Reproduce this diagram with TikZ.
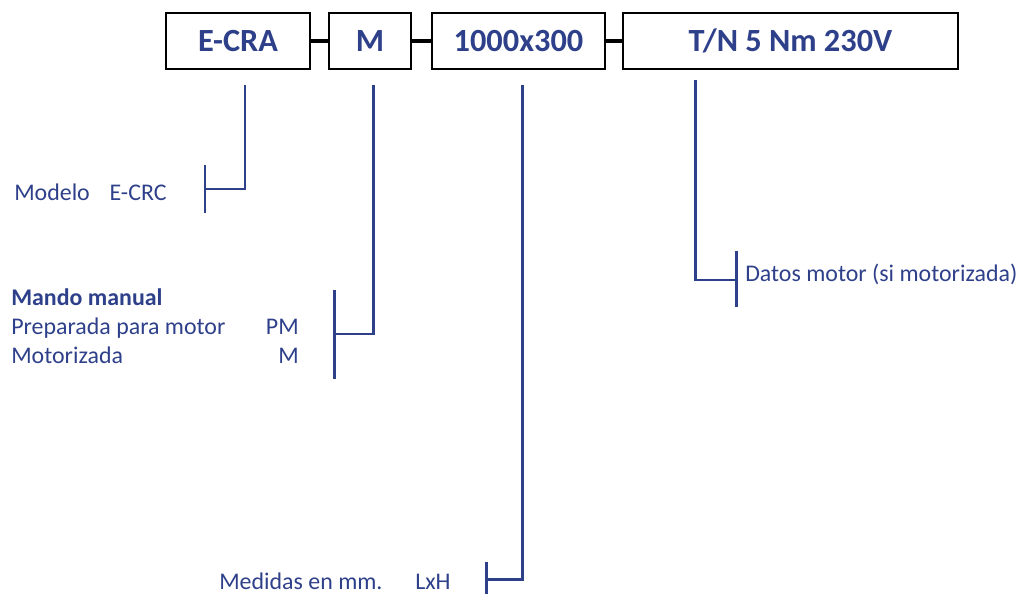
\documentclass[tikz,border=0pt]{standalone}
\usepackage{fontspec}
\setmainfont{Carlito}
\usepackage{xcolor}
\usetikzlibrary{positioning, calc}
\definecolor{codeblue}{RGB}{46,64,138}

\begin{document}
\begin{tikzpicture}[x=0.025cm, y=-0.025cm,
    every node/.style={inner sep=0pt, text=codeblue},
    codebox/.style={draw=black, line width=1.4pt, minimum height=1.4cm, font=\bfseries\fontsize{23}{27}\selectfont},
    joint/.style={draw=black, line width=2.8pt},
    leg/.style={draw=codeblue, line width=1.8pt},
    note/.style={anchor=base west, font=\fontsize{17}{20}\selectfont}]
    \useasboundingbox (0,0) rectangle (1021,594);
    % Code boxes
    \node[codebox, minimum width=3.6cm] (ecra) at (238,41) {E-CRA};
    \node[codebox, minimum width=2.05cm] (mando) at (370,41) {M};
    \node[codebox, minimum width=4.33cm] (medida) at (518.5,41) {1000x300};
    \node[codebox, minimum width=8.39cm] (motor) at (790.5,41) {T/N 5 Nm 230V};
    % Joints between boxes
    \foreach \a/\b in {ecra/mando, mando/medida, medida/motor} {
        \draw[joint] (\a.east) -- (\b.west);
    }
    % Descriptions
    \node[note] (modelo) at (14,200) {Modelo\hspace{0.6em} E-CRC};
    \node[note, font=\bfseries\fontsize{17}{20}\selectfont] (manual) at (11,305) {Mando manual};
    \node[note] (prep) at (11,334) {Preparada para motor};
    \node[note, anchor=base east] (pm) at (299,334) {PM};
    \node[note] (moto) at (11,363) {Motorizada};
    \node[note, anchor=base east] (m) at (299,363) {M};
    \node[note] (medidas) at (219,589) {Medidas en mm.};
    \node[note] (lxh) at (415,589) {LxH};
    \node[note] (datos) at (745,281.5) {Datos motor (si motorizada)};
    % Bracket bars
    \coordinate (barA1) at (205,165);   \coordinate (barA2) at (205,213);
    \coordinate (barB1) at (334.5,290); \coordinate (barB2) at (334.5,379);
    \coordinate (barC1) at (486.5,562); \coordinate (barC2) at (486.5,594);
    \coordinate (barD1) at (736.5,251); \coordinate (barD2) at (736.5,307);
    \foreach \b in {A,B,C,D} {
        \draw[leg] (bar\b1) -- (bar\b2);
    }
    % Legs from the boxes
    \draw[leg] ($(ecra.south)+(7,15)$) |- (205,189);
    \draw[leg] ($(mando.south)+(3.5,15)$) |- (334.5,334);
    \draw[leg] ($(medida.south)+(4,15)$) |- (486.5,579.5);
    \draw[leg] ($(motor.south west)+(74,10)$) |- (736.5,280);
\end{tikzpicture}
\end{document}
